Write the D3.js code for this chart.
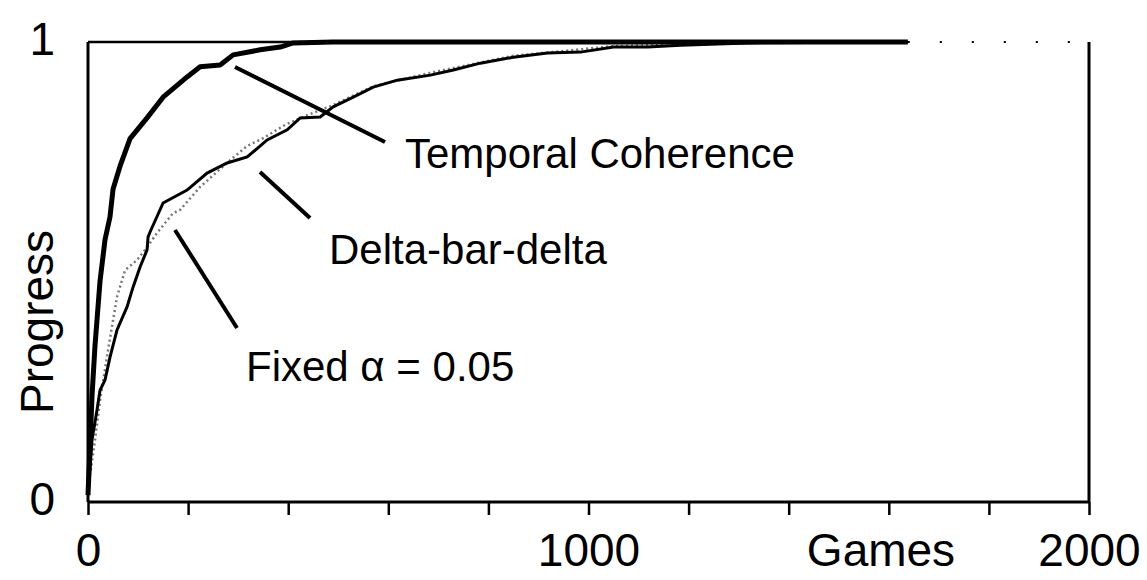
<!DOCTYPE html>
<html>
<head>
<meta charset="utf-8">
<script src="https://cdn.jsdelivr.net/npm/d3@7"></script>
<style>
  body { margin: 0; background: #fff; }
  svg { display: block; font-family: "Liberation Sans", Arial, sans-serif; }
</style>
</head>
<body>
<div id="chart"></div>
<script>
// x tick positions (games) and labelled ones
const xTicks = [0, 200, 400, 600, 800, 1000, 1200, 1400, 1600, 1800, 2000];
const xLabels = [0, 1000, 2000];
const yLabels = [0, 1];

// Temporal Coherence
const tcGames    = [0, 4, 8, 14, 24, 34, 44, 50, 64, 84, 118, 150, 198, 224, 264, 290, 344, 384, 410, 490, 1638];
const tcProgress = [0.015, 0.12, 0.23, 0.34, 0.48, 0.57, 0.62, 0.68, 0.73, 0.79, 0.835, 0.88, 0.924, 0.946, 0.95, 0.972, 0.983, 0.989, 0.998, 1.0, 1.0];

// Fixed alpha = 0.05
const faGames    = [0, 8, 18, 24, 34, 44, 58, 78, 90, 104, 118, 120, 124, 150, 198, 238, 278, 318, 358, 398, 424, 464, 490, 530, 570, 618, 684, 730, 784, 850, 918, 984, 1050, 1118, 1184, 1318, 1638];
const faProgress = [0.015, 0.135, 0.2, 0.243, 0.265, 0.315, 0.374, 0.424, 0.467, 0.511, 0.548, 0.576, 0.587, 0.65, 0.678, 0.715, 0.737, 0.75, 0.787, 0.809, 0.835, 0.837, 0.859, 0.88, 0.902, 0.917, 0.928, 0.939, 0.954, 0.967, 0.976, 0.978, 0.989, 0.989, 0.993, 0.998, 1.0];

// Delta-bar-delta
const dbGames    = [0, 14, 24, 40, 58, 74, 98, 118, 138, 170, 184, 224, 284, 318, 350, 394, 434, 490, 570, 684, 850, 1050, 1318, 1638];
const dbProgress = [0.026, 0.135, 0.22, 0.33, 0.446, 0.504, 0.526, 0.554, 0.585, 0.628, 0.635, 0.685, 0.743, 0.774, 0.791, 0.82, 0.839, 0.863, 0.904, 0.933, 0.97, 0.991, 0.998, 1.0];

const width = 1147, height = 580;
const x = d3.scaleLinear().domain([0, 2000]).range([88, 1089]);
const y = d3.scaleLinear().domain([0, 1]).range([502, 42]);

const svg = d3.select('#chart')
  .append('svg')
  .attr('width', width)
  .attr('height', height);

// frame
svg.append('line')
  .attr('x1', x(0)).attr('x2', x(0)).attr('y1', y(1)).attr('y2', y(0))
  .attr('stroke', '#000').attr('stroke-width', 3);
svg.append('line')
  .attr('x1', x(2000)).attr('x2', x(2000)).attr('y1', y(1)).attr('y2', y(0))
  .attr('stroke', '#000').attr('stroke-width', 3);
svg.append('line')
  .attr('x1', x(0)).attr('x2', x(1638)).attr('y1', y(1)).attr('y2', y(1))
  .attr('stroke', '#000').attr('stroke-width', 2.5);
svg.append('line')
  .attr('x1', x(1638)).attr('x2', x(2000)).attr('y1', y(1)).attr('y2', y(1))
  .attr('stroke', '#000').attr('stroke-width', 2)
  .attr('stroke-dasharray', '2,30');

// x axis
const xAxis = svg.append('g')
  .attr('transform', `translate(0,${y(0)})`)
  .call(d3.axisBottom(x)
    .tickValues(xTicks)
    .tickSize(13)
    .tickPadding(18)
    .tickFormat(d => xLabels.includes(d) ? d : ''));
xAxis.select('.domain').attr('stroke-width', 3).attr('d', `M${x(0)},0H${x(2000)}`);
xAxis.selectAll('.tick line').attr('stroke-width', 2.5);
xAxis.selectAll('text')
  .attr('font-size', 46)
  .attr('fill', '#000')
  .attr('font-family', '"Liberation Sans", Arial, sans-serif');

svg.append('text')
  .attr('x', 881)
  .attr('y', 566)
  .attr('text-anchor', 'middle')
  .attr('font-size', 46)
  .text('Games');

// y axis labels
const yAxis = svg.append('g')
  .attr('transform', `translate(${x(0)},0)`)
  .call(d3.axisLeft(y).tickValues(yLabels).tickSize(0).tickPadding(33).tickFormat(d3.format('d')));
yAxis.select('.domain').remove();
yAxis.selectAll('text')
  .attr('font-size', 46)
  .attr('fill', '#000')
  .attr('dy', '0.28em')
  .attr('font-family', '"Liberation Sans", Arial, sans-serif');

svg.append('text')
  .attr('transform', 'translate(53,322) rotate(-90)')
  .attr('text-anchor', 'middle')
  .attr('font-size', 46)
  .text('Progress');

// curves
const line = d3.line()
  .x(d => x(d[0]))
  .y(d => y(d[1]));

svg.append('path')
  .datum(d3.zip(dbGames, dbProgress))
  .attr('d', line)
  .attr('fill', 'none')
  .attr('stroke', '#777')
  .attr('stroke-width', 2.5)
  .attr('stroke-dasharray', '2,3');

svg.append('path')
  .datum(d3.zip(faGames, faProgress))
  .attr('d', line)
  .attr('fill', 'none')
  .attr('stroke', '#000')
  .attr('stroke-width', 3);

svg.append('path')
  .datum(d3.zip(tcGames, tcProgress))
  .attr('d', line)
  .attr('fill', 'none')
  .attr('stroke', '#000')
  .attr('stroke-width', 5)
  .attr('stroke-linejoin', 'round');

// annotations
const notes = [
  { label: 'Temporal Coherence', from: [235, 67], to: [385, 142], tx: 405, ty: 168 },
  { label: 'Delta-bar-delta', from: [260, 172], to: [310, 218], tx: 329, ty: 264 },
  { label: 'Fixed \u03b1 = 0.05', from: [175, 230], to: [237, 328], tx: 246, ty: 381 }
];

notes.forEach(n => {
  svg.append('line')
    .attr('x1', n.from[0]).attr('y1', n.from[1])
    .attr('x2', n.to[0]).attr('y2', n.to[1])
    .attr('stroke', '#000')
    .attr('stroke-width', 4);
  svg.append('text')
    .attr('x', n.tx)
    .attr('y', n.ty)
    .attr('font-size', 42)
    .text(n.label);
});
</script>
</body>
</html>
